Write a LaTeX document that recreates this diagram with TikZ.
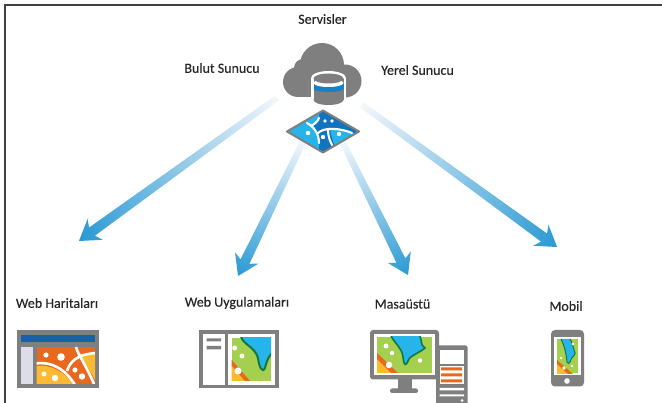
\documentclass[tikz,border=0pt]{standalone}
\usepackage{fontspec}
\setmainfont{Carlito}
\usetikzlibrary{calc}
\definecolor{igray}{HTML}{7F7F7F}
\definecolor{iblue}{HTML}{27B4EA}
\definecolor{dblue}{HTML}{1274BE}
\definecolor{igreen}{HTML}{A5D04F}
\definecolor{dgreen}{HTML}{0F7A3C}
\definecolor{iorange}{HTML}{E8691E}
\definecolor{iyellow}{HTML}{FDB92F}
\definecolor{barblue}{HTML}{1B5FA8}
\definecolor{panel}{HTML}{DCDDE9}
\definecolor{astart}{HTML}{F2F6FB}
\definecolor{amid}{HTML}{9FC6E6}
\definecolor{aend}{HTML}{2899D3}
\tikzset{
  lbl/.style={font=\fontsize{14pt}{15pt}\selectfont\addfontfeatures{FakeBold=0.25},text=black!85,inner sep=0pt},
  road/.style={draw=white,line width=2.1pt,line cap=round},
  maproad/.style={draw=white,line width=2.6pt},
  dot/.style={fill=white,draw=none}
}
\newcommand{\gradarrow}[2]{%
  \path let \p1=($(#2)-(#1)$), \n1={atan2(\y1,\x1)}, \n2={veclen(\x1,\y1)} in
    \pgfextra{\xdef\arang{\n1}\xdef\arlenraw{\n2}};
  \begin{scope}[transform canvas={shift={(#1)},rotate=\arang}]
    \pgfmathsetmacro{\arlen}{\arlenraw}
    \pgfmathsetmacro{\La}{\arlen-16}
    \pgfmathsetmacro{\Lb}{\arlen-20}
    \shade[left color=astart,middle color=amid,right color=aend,draw=none]
      (0pt,3pt) -- (\La pt,5pt) -- (\Lb pt,13pt) -- (\arlen pt,0pt)
      -- (\Lb pt,-13pt) -- (\La pt,-5pt) -- (0pt,-3pt) -- cycle;
  \end{scope}}
\begin{document}
\begin{tikzpicture}[x=1pt,y=-1pt]
\useasboundingbox (0,0) rectangle (662,403);
\fill[white] (0,0) rectangle (662,403);
% frame
\draw[black!75,line width=1.1pt] (5,403) -- (5,5) -- (662,5);
% labels
\node[lbl] (servisler) at (322.5,19) {Servisler};
\node[lbl] (bulut) at (222,68) {Bulut Sunucu};
\node[lbl] (yerel) at (417.5,70) {Yerel Sunucu};
\node[lbl] (webh) at (57,303) {Web Haritaları};
\node[lbl] (webu) at (237,303) {Web Uygulamaları};
\node[lbl] (masa) at (402.5,304) {Masaüstü};
\node[lbl] (mobil) at (566,306) {Mobil};
% arrow ends
\coordinate (a0) at (277,98);  \coordinate (a1) at (79,241);
\coordinate (b0) at (303,142); \coordinate (b1) at (238,276);
\coordinate (c0) at (343,143); \coordinate (c1) at (408,275);
\coordinate (d0) at (362,105); \coordinate (d1) at (557,247);
\gradarrow{a0}{a1}
\gradarrow{b0}{b1}
\gradarrow{c0}{c1}
\gradarrow{d0}{d1}
% cloud
\fill[igray] (298,82) circle (15) (322,65) circle (22) (345,81) circle (16.5) (303,68) circle (9);
\fill[igray] (298,97) rectangle (345,80);
% cylinder
\fill[white] (311,78) rectangle (346,100);
\fill[white] (328.5,78) ellipse[x radius=17.5,y radius=7];
\fill[white] (328.5,100) ellipse[x radius=17.5,y radius=7.5];
\fill[igray] (313.5,79) rectangle (343.5,100);
\fill[igray] (328.5,100) ellipse[x radius=15,y radius=5];
\fill[dblue!80!iblue] (313.5,83) rectangle (343.5,89);
\fill[dblue!80!iblue] (328.5,89) ellipse[x radius=15,y radius=3];
\fill[white] (328.5,83) ellipse[x radius=15,y radius=4];
\fill[igray] (328.5,78.5) ellipse[x radius=15,y radius=5];
% service diamond
\begin{scope}
\path[clip] (323,110.5) -- (359,131.5) -- (323,152.5) -- (287,131.5) -- cycle;
\fill[dblue] (287,110) rectangle (359,153);
\fill[iblue] (287,131) -- (319,112) -- (319,119) .. controls (317,122) and (314,124) .. (312,125) .. controls (316,129) and (319,136) .. (319,150) -- (305,150) -- cycle;
\fill[iblue] (330,129) .. controls (338,128) and (346,130) .. (356,134) -- (335,150) .. controls (334,142) and (331,136) .. (330,129) -- cycle;
\draw[road] (319,118) .. controls (318,121) and (315,124) .. (311,126);
\draw[road] (307,123) .. controls (313,126) and (319,133) .. (319,143);
\draw[road] (318,133) .. controls (324,127) and (340,128) .. (352,133);
\draw[road] (328,130) .. controls (328,136) and (330,141) .. (332,145);
\fill[dot] (325,121) circle (1.8) (332,121) circle (1.8) (308,133) circle (2.2) (323,137) circle (2.2) (339,134) circle (2.2);
\end{scope}
\draw[igray,line width=2pt,line join=round] (323,110.5) -- (359,131.5) -- (323,152.5) -- (287,131.5) -- cycle;
% Web Haritalari icon
\fill[igray] (17,330) rectangle (99,388.5);
\fill[barblue] (21,335) rectangle (94.5,342);
\fill[panel] (21,347) rectangle (32.5,384);
\begin{scope}
\clip (36.5,347) rectangle (95,384);
\fill[iorange] (36.5,347) rectangle (95,384);
\fill[iyellow] (36.5,366) .. controls (50,364) and (65,372) .. (73,384) -- (36.5,384) -- cycle;
\fill[iyellow] (79,354) -- (95,354) -- (95,380) .. controls (90,370) and (84,362) .. (79,354) -- cycle;
\draw[maproad] (36,363.5) .. controls (52,361) and (66,370) .. (75,385);
\draw[maproad] (67,371) .. controls (70,362) and (76,355) .. (95,353);
\draw[maproad] (76,347) .. controls (78,355) and (86,365) .. (94,384);
\fill[dot] (46,355) circle (2.6) (61,357) circle (3.8) (75,370) circle (2.6) (82,376.5) circle (3.2) (44,374) circle (2.5) (55,378) circle (3.2);
\end{scope}
% Web Uygulamalari icon
\fill[igray] (199,330) rectangle (278.5,388.5);
\fill[white] (202.5,334) rectangle (224.5,385);
\fill[white] (228,334) rectangle (275,385);
\fill[igray] (206.5,338.5) rectangle (221,341.5) (206.5,346) rectangle (221,349.5);
\begin{scope}
\clip (231.5,338) rectangle (271,381);
\fill[igreen] (231.5,338) rectangle (271,381);
\fill[iblue] (241,337) .. controls (244,345) and (255,347) .. (258,358) .. controls (259,366) and (262,374) .. (265,368) .. controls (267,360) and (268,358) .. (272,353) -- (272,337) -- cycle;
\draw[dgreen,line width=2pt] (241,337) .. controls (244,345) and (255,347) .. (258,358) .. controls (259,366) and (262,374) .. (265,368) .. controls (267,360) and (268,358) .. (272,353);
\fill[iyellow] (231,381) -- (231,364) -- (246,381) -- cycle;
\fill[iorange] (231,359) -- (250,381) -- (245,381) -- (231,365) -- cycle;
\fill[dot] (234.7,348) circle (2.5) (242,356) circle (2.5) (238,371) circle (3.5);
\end{scope}
% Desktop icon
\fill[igray] (398,378) rectangle (412,389);
\fill[igray,rounded corners=2pt] (390,388.5) rectangle (418,393);
\fill[igray,rounded corners=2pt] (436,345.5) rectangle (467.5,410);
\fill[white] (439.5,350) rectangle (464,364);
\fill[white] (439.5,366) rectangle (464,384);
\fill[iorange] (441,367.5) rectangle (462,370.5) (441,373.5) rectangle (462,376.5) (441,379.5) rectangle (462,382.5);
\fill[white] (439.5,388) rectangle (464,390.5) (439.5,394.5) rectangle (464,396.5);
\fill[white] (462,400.5) circle (1.5);
\fill[igray,rounded corners=3pt] (370,330) rectangle (439,379.5);
\fill[white] (374,334) rectangle (434.5,375.5);
\begin{scope}
\clip (377,337) rectangle (432,372.5);
\fill[igreen] (377,337) rectangle (432,373);
\fill[iblue] (391,336) .. controls (396,345) and (402,348) .. (403,357) .. controls (404,365) and (405,366) .. (407,363) .. controls (408,356) and (418,354) .. (425,348) .. controls (420,345) and (422,340) .. (420,336) -- cycle;
\draw[dgreen,line width=1.6pt] (391,336) .. controls (396,345) and (402,348) .. (403,357) .. controls (404,365) and (405,366) .. (407,363) .. controls (408,356) and (418,354) .. (425,348) .. controls (420,345) and (422,340) .. (420,336);
\fill[iyellow] (376,373) -- (376,357) -- (392,373) -- cycle;
\fill[iorange] (376,352) -- (398,373) -- (391,373) -- (376,358) -- cycle;
\fill[dot] (386,346) circle (2.5) (392,353) circle (2.2) (420,360.5) circle (2.2) (389,365) circle (3.3);
\end{scope}
% Mobile icon
\fill[igray,rounded corners=4pt] (551,330) rectangle (584,386.5);
\fill[white] (554,337) rectangle (581,375);
\begin{scope}
\clip (557,339) rectangle (578,373.5);
\fill[igreen] (557,339) rectangle (578,373.5);
\fill[iblue] (557,339) -- (561,339) .. controls (564,345) and (566,352) .. (567,362) .. controls (568,364) and (569,364) .. (570,362) .. controls (571,356) and (578,355) .. (574,350) .. controls (573,346) and (572,342) .. (570,339) -- cycle;
\draw[dgreen,line width=1pt] (561,339) .. controls (564,345) and (566,352) .. (567,362) .. controls (568,364) and (569,364) .. (570,362) .. controls (571,356) and (578,355) .. (574,350) .. controls (573,346) and (572,342) .. (570,339);
\fill[iyellow] (557,374) -- (557,364) -- (568,374) -- cycle;
\fill[iorange] (557,360) -- (573,374) -- (568,374) -- (557,364) -- cycle;
\fill[dot] (573,344) circle (1.3) (561,358) circle (1.3) (572,366) circle (1.3) (564,368) circle (1.8);
\end{scope}
\fill[white] (567,381) circle (2.8);
\end{tikzpicture}
\end{document}
